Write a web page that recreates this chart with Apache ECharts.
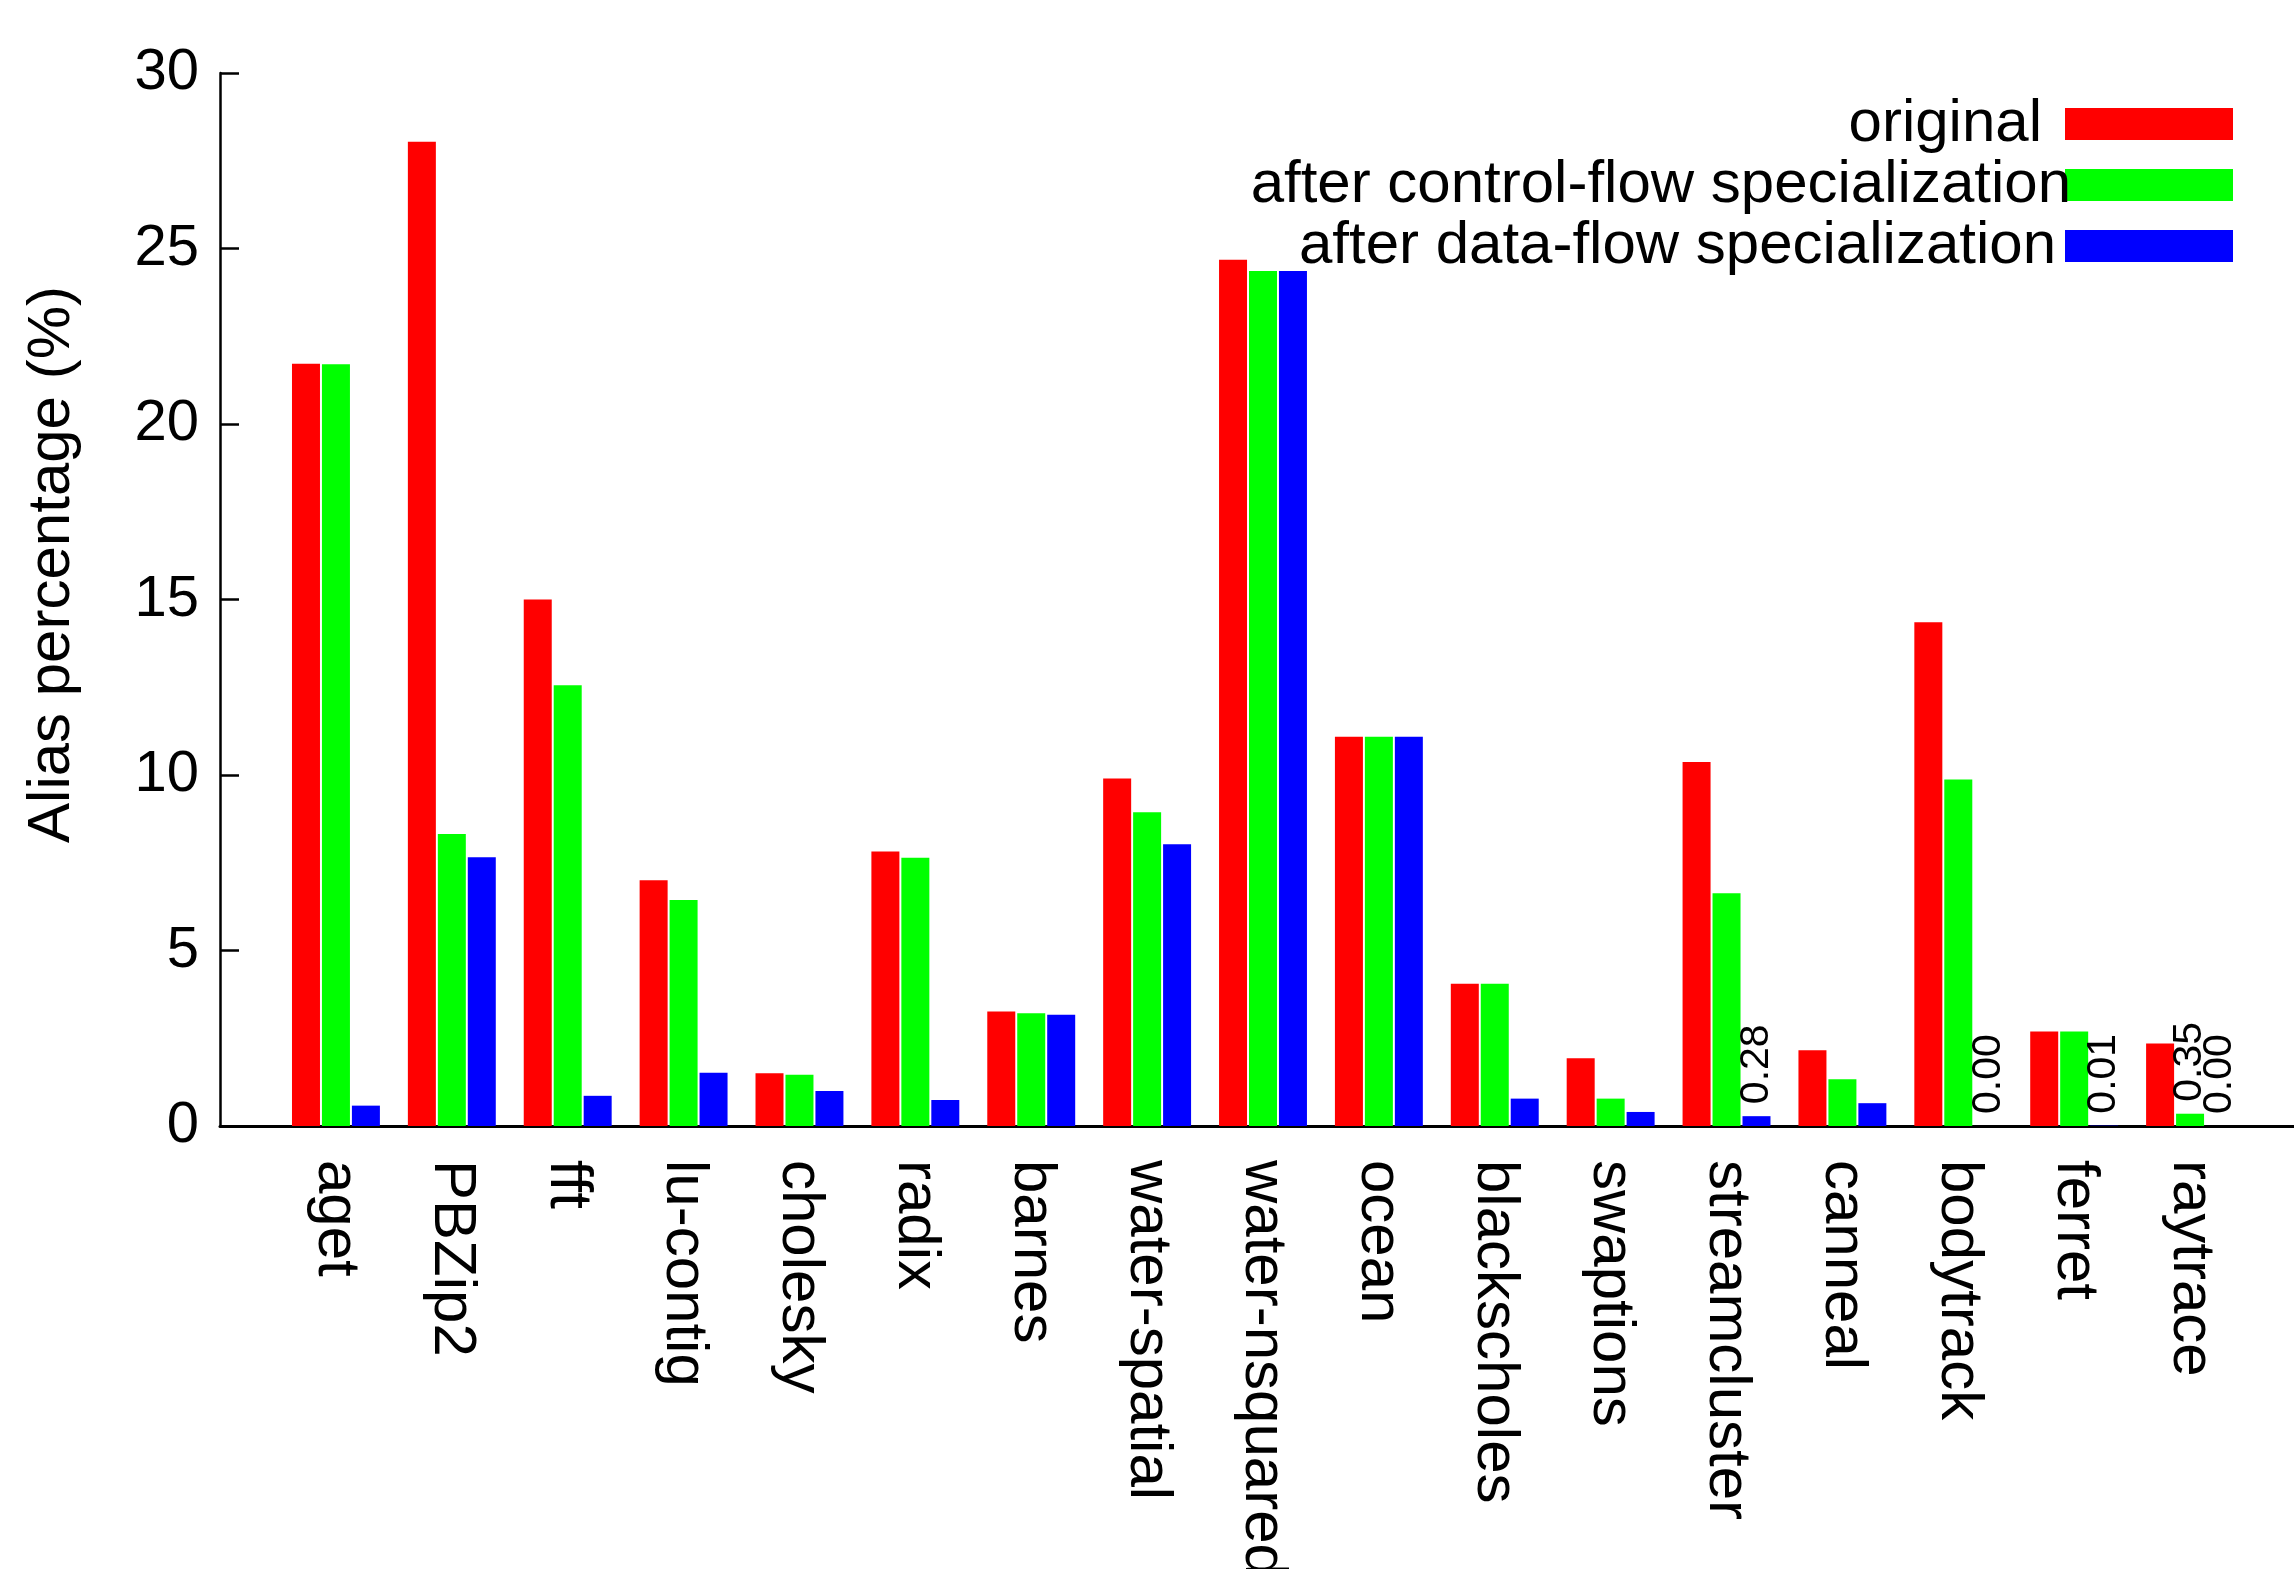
<!DOCTYPE html>
<html>
<head>
<meta charset="utf-8">
<script src="https://cdn.jsdelivr.net/npm/echarts@6/dist/echarts.min.js"></script>
<style>
  html, body { margin: 0; padding: 0; background: #fff; }
  #chart { width: 2294px; height: 1569px; }
</style>
</head>
<body>
<div id="chart"></div>
<script>
const categories = ['aget','PBZip2','fft','lu-contig','cholesky','radix','barnes','water-spatial','water-nsquared','ocean','blackscholes','swaptions','streamcluster','canneal','bodytrack','ferret','raytrace'];
const seriesNames = ['original', 'after control-flow specialization', 'after data-flow specialization'];
const original   = [21.72, 28.04, 15.00, 7.00, 1.50, 7.82, 3.26, 9.90, 24.68, 11.09, 4.05, 1.93, 10.37, 2.16, 14.35, 2.69, 2.35];
const controlFlow = [21.70, 8.32, 12.56, 6.44, 1.46, 7.64, 3.21, 8.94, 24.36, 11.09, 4.05, 0.78, 6.63, 1.33, 9.87, 2.69, 0.35];
const dataFlow   = [0.58, 7.66, 0.86, 1.52, 1.00, 0.74, 3.17, 8.03, 24.36, 11.09, 0.78, 0.40, 0.28, 0.65, 0.00, 0.01, 0.00];
const yTicks = [0, 5, 10, 15, 20, 25, 30];
// bars annotated with their value in the reference
const annotatedControl = ['raytrace'];
const annotatedData = ['streamcluster', 'bodytrack', 'ferret', 'raytrace'];

const FONT = 'Liberation Sans, Arial, Helvetica, sans-serif';
const colors = ['#ff0000', '#00ff00', '#0000ff'];

function withLabels(values, annotated) {
  return values.map((v, i) => {
    if (annotated.indexOf(categories[i]) >= 0) {
      return {
        value: v,
        label: {
          show: true, position: 'top', rotate: 90, align: 'left', verticalAlign: 'middle',
          distance: 12, fontSize: 41, fontFamily: FONT, color: '#000',
          formatter: p => Number(p.value).toFixed(2)
        }
      };
    }
    return v;
  });
}

const chart = echarts.init(document.getElementById('chart'), null, { renderer: 'canvas' });

function legendFor(name, top, gap) {
  return {
    orient: 'vertical', right: 61, top: top, padding: 0, align: 'right', icon: 'rect',
    itemWidth: 168, itemHeight: 32, selectedMode: false, data: [name],
    textStyle: { fontSize: 60, fontFamily: FONT, color: '#000', padding: [0, gap, 0, 0] }
  };
}

chart.setOption({
  animation: false,
  backgroundColor: '#fff',
  color: colors,
  legend: [
    legendFor(seriesNames[0], 94, 18),
    legendFor(seriesNames[1], 155, -11),
    legendFor(seriesNames[2], 216, 4)
  ],
  grid: [
    { left: 278, right: 46, top: 73, bottom: 443, containLabel: false, outerBoundsMode: 'none' },
    { left: 220, right: 0, top: 73, bottom: 443, containLabel: false, outerBoundsMode: 'none' }
  ],
  xAxis: [
    {
      type: 'category', gridIndex: 0, data: categories,
      axisLine: { show: false }, axisTick: { show: false },
      axisLabel: { interval: 0, rotate: -90, fontSize: 60, fontFamily: FONT, color: '#000', margin: 34 }
    },
    {
      type: 'value', gridIndex: 1, min: 0, max: 1,
      axisLine: { show: true, lineStyle: { color: '#000', width: 3 } },
      axisTick: { show: false }, axisLabel: { show: false }, splitLine: { show: false }
    }
  ],
  yAxis: [
    {
      type: 'value', gridIndex: 0, min: yTicks[0], max: yTicks[yTicks.length - 1], interval: 5,
      offset: 58,
      name: 'Alias percentage (%)', nameLocation: 'middle', nameGap: 138,
      nameTextStyle: { fontSize: 60, fontFamily: FONT, color: '#000', padding: [0, 0, 0, 70] },
      axisLine: { show: true, lineStyle: { color: '#000', width: 2.5 } },
      axisTick: { show: true, inside: true, length: 19, lineStyle: { color: '#000', width: 2.5 } },
      axisLabel: { fontSize: 58, fontFamily: FONT, color: '#000', margin: 21 },
      splitLine: { show: false }
    },
    { type: 'value', gridIndex: 1, show: false, min: 0, max: 1 }
  ],
  series: [
    { name: seriesNames[0], type: 'bar', xAxisIndex: 0, yAxisIndex: 0, barWidth: 28, barGap: '7%',
      itemStyle: { color: colors[0] }, data: original },
    { name: seriesNames[1], type: 'bar', xAxisIndex: 0, yAxisIndex: 0, barWidth: 28, barGap: '7%',
      itemStyle: { color: colors[1] }, data: withLabels(controlFlow, annotatedControl) },
    { name: seriesNames[2], type: 'bar', xAxisIndex: 0, yAxisIndex: 0, barWidth: 28, barGap: '7%',
      itemStyle: { color: colors[2] }, data: withLabels(dataFlow, annotatedData) }
  ]
});
</script>
</body>
</html>
